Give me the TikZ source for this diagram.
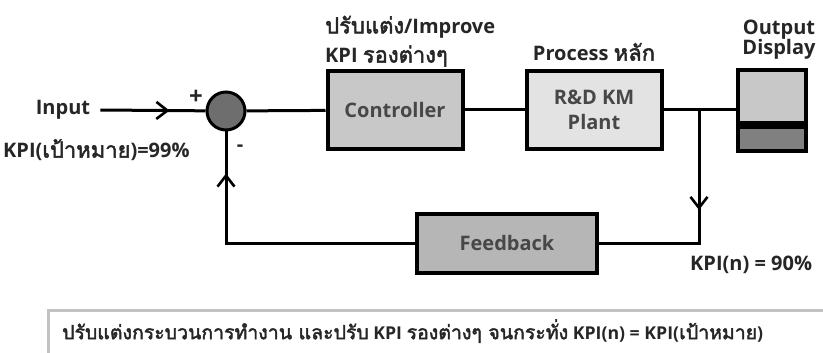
\documentclass[tikz,border=0pt]{standalone}
\usepackage{fontspec}
\setmainfont{Open Sans}
\newfontfamily\thaifont[Script=Thai, Scale=1.1, AutoFakeBold=2.2]{Loma}
\usetikzlibrary{arrows.meta, positioning, decorations.markings}

\newcommand{\thw}[1]{{\thaifont #1}}
\definecolor{lbltext}{HTML}{262626}
\definecolor{boxtext}{HTML}{474747}
\definecolor{ctrlfill}{HTML}{C8C8C8}
\definecolor{plantfill}{HTML}{E3E3E3}
\definecolor{fbfill}{HTML}{B6B6B6}
\definecolor{sumfill}{HTML}{6E6E6E}
\definecolor{barfill}{HTML}{808080}
\definecolor{notegray}{HTML}{C2C2C2}

\begin{document}
\begin{tikzpicture}[x=1pt, y=-1pt, node distance=4pt,
    >={Straight Barb[length=11pt,width=17pt,line width=2.6pt]}]
    \tikzstyle{block} = [draw, line width=4pt, minimum width=135pt,
	minimum height=78pt, inner sep=0pt, align=center, text=boxtext,
	font=\fontsize{20}{25}\selectfont\bfseries]
    \tikzstyle{lbl} = [inner sep=0pt, text=lbltext, align=left,
	font=\fontsize{20}{25}\selectfont\bfseries]
    \tikzstyle{wire} = [line width=3pt]
    \tikzstyle{arrowat} = [postaction={decorate}, decoration={markings,
	mark=at position #1 with {\arrow{>}}}]

	\useasboundingbox (0,0) rectangle (823,353);

	% summing junction and the three blocks of the loop
	\node[draw, circle, line width=3pt, fill=sumfill, minimum size=38pt,
	inner sep=0pt] (sum) at (226,111) {};
	\node[block, fill=ctrlfill] (ctrl) at (395,110) {Controller};
	\node[block, fill=plantfill] (plant) at (594,110) {R\&D KM\\Plant};
	\node[block, fill=fbfill, minimum width=180pt, minimum height=59pt]
	(fb) at (507,243) {Feedback};

	% output display: screen and bar
	\node[draw, line width=4pt, fill=ctrlfill, minimum width=68pt,
	minimum height=53pt, inner sep=0pt] (disp) at (772,96.5) {};
	\node[draw, line width=4pt, fill=barfill, minimum width=68pt,
	minimum height=24pt, inner sep=0pt, below=0pt of disp] (dispbar) {};

	% texts
	\node[lbl] (input) at (63,110) {Input};
	\node[lbl, anchor=west] (target) at (3,150) {KPI(\thw{เป้าหมาย})=99\%};
	\node[lbl, font=\fontsize{24}{25}\selectfont\bfseries] (plus) at (196,97) {+};
	\node[lbl] (minus) at (240,148) {-};
	\node[lbl, anchor=west] (improve) at (325,27) {\thw{ปรับแต่ง}/Improve};
	\node[lbl, anchor=west] (subkpi) at (325,56) {KPI \thw{รองต่างๆ}};
	\node[lbl, above=8pt of plant] (process) {Process \thw{หลัก}};
	\node[lbl, align=center] (outlbl) at (779,40) {Output\\[-5pt]Display};
	\node[lbl, anchor=west] (kpin) at (690,265) {KPI(n) = 90\%};

	% connectors
	\coordinate (br) at (699,110);
	\draw[wire, arrowat=-36pt] ([xshift=10pt]input.east) -- (sum);
	\draw[wire] (sum) -- (ctrl);
	\draw[wire] (ctrl) -- (plant);
	\draw[wire] (plant) -- (disp.west |- plant);
	\draw[wire, arrowat=100pt] (br) |- (fb);
	\draw[wire, arrowat=-42pt] (fb) -| (sum);

	% note at the bottom
	\draw[line width=3pt, notegray] (48,310) rectangle (840,380);
	\node[lbl, anchor=west, font=\fontsize{17.7}{25}\selectfont\bfseries]
	(note) at (62,331)
	{\thw{ปรับแต่งกระบวนการทำงาน และปรับ} KPI \thw{รองต่างๆ จนกระทั่ง}
	KPI(n) = KPI(\thw{เป้าหมาย})};
\end{tikzpicture}
\end{document}
